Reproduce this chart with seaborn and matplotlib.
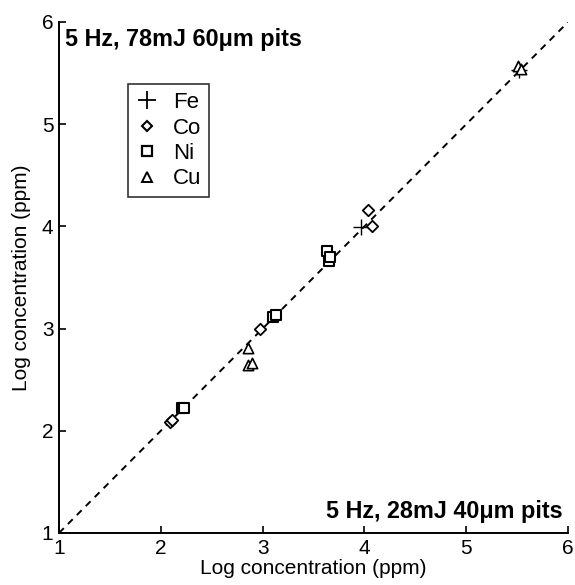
import matplotlib
matplotlib.use("Agg")
import matplotlib.pyplot as plt
import seaborn as sns
import pandas as pd
from matplotlib.lines import Line2D

sns.set_style("white")
plt.rcParams['font.family'] = ['Liberation Sans', 'DejaVu Sans']
plt.rcParams['text.color'] = 'black'
plt.rcParams['axes.labelcolor'] = 'black'
plt.rcParams['xtick.color'] = 'black'
plt.rcParams['ytick.color'] = 'black'

fe_x = [3.97, 5.52]
fe_y = [3.99, 5.53]
co_x = [2.09, 2.11, 2.97, 4.03, 4.07]
co_y = [2.09, 2.11, 3.00, 4.16, 4.00]
ni_x = [2.21, 2.23, 3.10, 3.13, 3.63, 3.65, 3.66]
ni_y = [2.22, 2.22, 3.11, 3.13, 3.76, 3.66, 3.70]
cu_x = [2.86, 2.86, 2.90, 5.51, 5.54]
cu_y = [2.81, 2.64, 2.66, 5.57, 5.54]

ticks = [1, 2, 3, 4, 5, 6]
xlabel = "Log concentration (ppm)"
ylabel = "Log concentration (ppm)"
title_top = "5 Hz, 78mJ 60μm pits"
title_bottom = "5 Hz, 28mJ 40μm pits"

fig = plt.figure(figsize=(5.75, 5.85), dpi=100)
ax = fig.add_axes([0.1026, 0.0889, 0.8854, 0.8735])

ax.plot([1, 6], [1, 6], linestyle=(0, (3.5, 3)), color='black', lw=1.4, zorder=1)

series = [
    ("Fe", fe_x, fe_y, '+', 120, 1.0),
    ("Co", co_x, co_y, 'D', 34, 1.3),
    ("Ni", ni_x, ni_y, 's', 52, 1.5),
    ("Cu", cu_x, cu_y, '^', 55, 1.2),
]
for name, xs, ys, m, s, lw in series:
    df = pd.DataFrame({"x": xs, "y": ys})
    if m == '+':
        sns.scatterplot(data=df, x="x", y="y", marker=m, s=s, color='black',
                        linewidth=lw, ax=ax, zorder=3, legend=False)
    else:
        sns.scatterplot(data=df, x="x", y="y", marker=m, s=s, facecolors='white',
                        edgecolor='black', linewidth=lw, ax=ax, zorder=3, legend=False)

ax.set_xlim(1, 6)
ax.set_ylim(1, 6)
ax.set_xticks(ticks)
ax.set_yticks(ticks)
ax.set_xticklabels([str(t) for t in ticks])
ax.set_yticklabels([str(t) for t in ticks])
ax.tick_params(direction='in', length=5, width=1.2, labelsize=15, pad=4,
               bottom=True, left=True, top=False, right=False, colors='black')
for sp in ['top', 'right']:
    ax.spines[sp].set_visible(False)
for sp in ['left', 'bottom']:
    ax.spines[sp].set_color('black')
    ax.spines[sp].set_linewidth(1.4)
ax.set_xlabel(xlabel, fontsize=15, labelpad=1)
ax.set_ylabel(ylabel, fontsize=15, labelpad=8)

ax.text(0.012, 0.988, title_top, transform=ax.transAxes, fontsize=16.8,
        fontweight='bold', ha='left', va='top')
ax.text(0.99, 0.02, title_bottom, transform=ax.transAxes, fontsize=16.8,
        fontweight='bold', ha='right', va='bottom')

handles = [
    Line2D([], [], marker='+', color='black', linestyle='none', markersize=13, markeredgewidth=1.3),
    Line2D([], [], marker='D', color='black', markerfacecolor='white', linestyle='none', markersize=5.5, markeredgewidth=1.5),
    Line2D([], [], marker='s', color='black', markerfacecolor='white', linestyle='none', markersize=6.5, markeredgewidth=1.6),
    Line2D([], [], marker='^', color='black', markerfacecolor='white', linestyle='none', markersize=7, markeredgewidth=1.4),
]
leg = ax.legend(handles, ["Fe", "Co", "Ni", "Cu"], loc='upper left',
                bbox_to_anchor=(0.135, 0.878), fontsize=16, frameon=True,
                fancybox=False, edgecolor='black', handlelength=1.0,
                handletextpad=0.7, labelspacing=0.2, borderpad=0.35,
                borderaxespad=0)
leg.get_frame().set_linewidth(1.2)

fig.savefig("out.png", dpi=100)
